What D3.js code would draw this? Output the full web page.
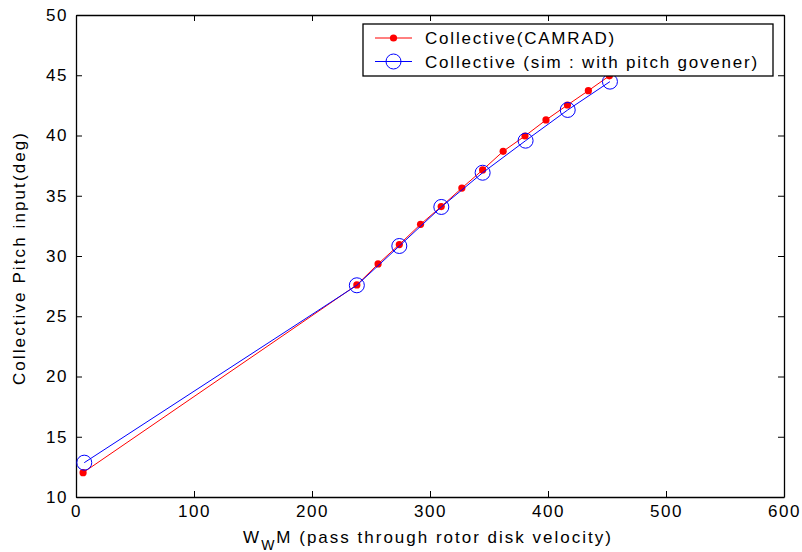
<!DOCTYPE html>
<html><head><meta charset="utf-8">
<script src="https://cdn.jsdelivr.net/npm/d3@7"></script>
<style>body{margin:0;background:#fff}svg{display:block}text{font-family:"Liberation Sans",Arial,sans-serif}</style>
</head><body><svg id="c" width="802" height="552"></svg>
<script>
const camradX = [6, 238, 256, 274, 292, 309.5, 327, 344.6, 362, 380.5, 398.3, 416.5, 434.2, 452];
const camradY = [12.02, 27.6, 29.34, 30.95, 32.63, 34.1, 35.64, 37.14, 38.69, 39.96, 41.29, 42.53, 43.72, 44.95];
const simX = [7, 238, 274, 309.6, 344.6, 381, 416.7, 452.5];
const simY = [12.85, 27.57, 30.83, 34.07, 36.91, 39.57, 42.12, 44.47];
const xTicks = [0, 100, 200, 300, 400, 500, 600];
const yTicks = [10, 15, 20, 25, 30, 35, 40, 45, 50];
const seriesNames = ["Collective(CAMRAD)", "Collective (sim : with pitch govener)"];

const svg = d3.select("#c");
const L = 76, R = 784, T = 15, B = 497;
const x = d3.scaleLinear().domain([0, 600]).range([L, R]);
const y = d3.scaleLinear().domain([10, 50]).range([B, T]);
const fs = 17, ls = "1.8px";

const gB = svg.append("g").attr("transform", `translate(0,${B})`)
  .call(d3.axisBottom(x).tickValues(xTicks).tickSizeInner(-6).tickSizeOuter(0).tickPadding(8));
const gT = svg.append("g").attr("transform", `translate(0,${T})`)
  .call(d3.axisTop(x).tickValues(xTicks).tickSizeInner(-6).tickSizeOuter(0).tickFormat(""));
const gL = svg.append("g").attr("transform", `translate(${L},0)`)
  .call(d3.axisLeft(y).tickValues(yTicks).tickSizeInner(-6).tickSizeOuter(0).tickPadding(8));
const gR = svg.append("g").attr("transform", `translate(${R},0)`)
  .call(d3.axisRight(y).tickValues(yTicks).tickSizeInner(-6).tickSizeOuter(0).tickFormat(""));
[gB, gT, gL, gR].forEach(g => {
  g.select(".domain").attr("stroke", "#000").attr("stroke-width", 1.3);
  g.selectAll(".tick line").attr("stroke", "#000");
  g.selectAll("text").attr("font-size", fs).attr("fill", "#000").style("letter-spacing", "1.5px")
   .attr("font-family", "Liberation Sans, Arial, sans-serif");
});
gB.selectAll("text").attr("dy", "0.71em");

const red = camradX.map((v, i) => [v, camradY[i]]);
const blue = simX.map((v, i) => [v, simY[i]]);
const line = d3.line().x(d => x(d[0])).y(d => y(d[1]));
svg.append("path").datum(red).attr("d", line).attr("fill", "none").attr("stroke", "#ff0000").attr("stroke-width", 1);
svg.selectAll(".rd").data(red).join("circle").attr("cx", d => x(d[0])).attr("cy", d => y(d[1]))
  .attr("r", 3.6).attr("fill", "#ff0000");
svg.append("path").datum(blue).attr("d", line).attr("fill", "none").attr("stroke", "#0000ff").attr("stroke-width", 1);
svg.selectAll(".bc").data(blue).join("circle").attr("cx", d => x(d[0])).attr("cy", d => y(d[1]))
  .attr("r", 7.5).attr("fill", "none").attr("stroke", "#0000ff").attr("stroke-width", 1);

const lg = svg.append("g");
lg.append("rect").attr("x", 363).attr("y", 24).attr("width", 410).attr("height", 52)
  .attr("fill", "#fff").attr("stroke", "#000").attr("stroke-width", 1.3);
const rows = [38, 61.5];
lg.append("line").attr("x1", 375).attr("x2", 412).attr("y1", rows[0]).attr("y2", rows[0]).attr("stroke", "#ff0000");
lg.append("circle").attr("cx", 393.5).attr("cy", rows[0]).attr("r", 3.6).attr("fill", "#ff0000");
lg.append("line").attr("x1", 375).attr("x2", 412).attr("y1", rows[1]).attr("y2", rows[1]).attr("stroke", "#0000ff");
lg.append("circle").attr("cx", 393.5).attr("cy", rows[1]).attr("r", 7.5).attr("fill", "none").attr("stroke", "#0000ff");
seriesNames.forEach((n, i) => {
  lg.append("text").attr("x", 425).attr("y", rows[i]).attr("dy", "0.36em").attr("font-size", fs)
    .style("letter-spacing", ls).text(n);
});

const xt = svg.append("text").attr("x", 428).attr("y", 543).attr("text-anchor", "middle")
  .attr("font-size", fs).style("letter-spacing", "2px");
xt.append("tspan").text("W");
xt.append("tspan").attr("dy", 7).attr("font-size", 14).text("W");
xt.append("tspan").attr("dy", -7).text("M (pass through rotor disk velocity)");
svg.append("text").attr("transform", "translate(25,258) rotate(-90)").attr("text-anchor", "middle")
  .attr("font-size", fs).style("letter-spacing", "2.1px").text("Collective Pitch input(deg)");
</script></body></html>
